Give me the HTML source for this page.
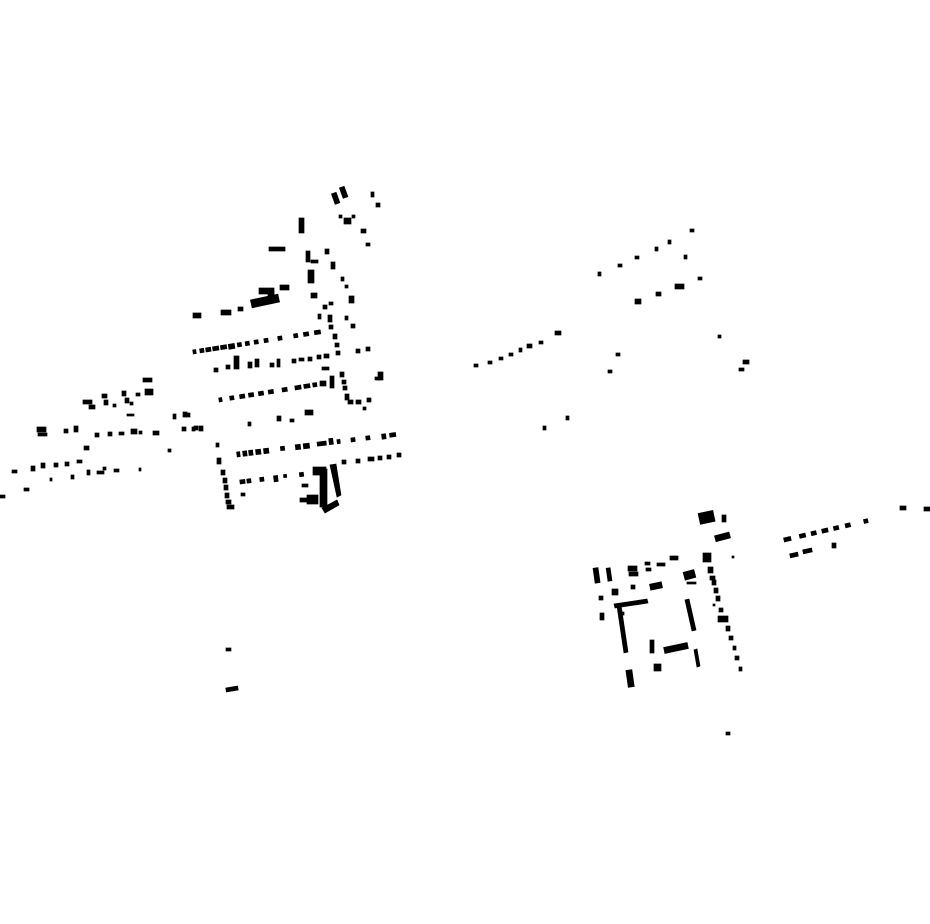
<!DOCTYPE html>
<html><head><meta charset="utf-8"><style>html,body{margin:0;padding:0;background:#fff}svg{display:block}</style></head>
<body>
<svg width="930" height="924" viewBox="0 0 930 924" xmlns="http://www.w3.org/2000/svg">
<g fill="#000" stroke="#000" stroke-width="0.7">
<rect x="333" y="193" width="5" height="11" transform="rotate(-20 335 198)"/>
<rect x="341" y="187" width="5" height="11" transform="rotate(-20 343 192)"/>
<rect x="371" y="192" width="3" height="5"/><rect x="376" y="203" width="4" height="4"/>
<rect x="339" y="215" width="3" height="3"/><rect x="344" y="218" width="7" height="6"/><rect x="352" y="215" width="3" height="3"/>
<rect x="361" y="229" width="5" height="4"/><rect x="366" y="243" width="4" height="3"/>
<rect x="299" y="218" width="5" height="15"/>
<rect x="269" y="247" width="16" height="4"/>
<rect x="306" y="251" width="4" height="11"/><rect x="311" y="260" width="7" height="3"/>
<rect x="308" y="270" width="6" height="13"/><rect x="311" y="293" width="6" height="5"/>
<rect x="325" y="249" width="4" height="5"/><rect x="331" y="262" width="4" height="7"/>
<rect x="341" y="277" width="3" height="4"/><rect x="345" y="285" width="3" height="3"/>
<rect x="349" y="296" width="5" height="7"/><rect x="345" y="316" width="3" height="4"/><rect x="351" y="324" width="4" height="4"/>
<rect x="193" y="313" width="8" height="5"/><rect x="221" y="310" width="10" height="5"/><rect x="238" y="307" width="5" height="4"/>
<rect x="251" y="297" width="28" height="8" transform="rotate(-12 265 301)"/>
<rect x="259" y="288" width="15" height="6"/><rect x="268" y="291" width="6" height="10"/><rect x="280" y="285" width="9" height="5"/>
<rect x="323" y="305" width="4" height="4"/><rect x="329" y="302" width="4" height="3"/>
<rect x="318" y="314" width="3" height="5"/><rect x="328" y="315" width="4" height="7"/><rect x="329" y="325" width="4" height="4"/>
<rect x="333" y="334" width="4" height="5"/><rect x="335" y="343" width="4" height="4"/><rect x="336" y="351" width="4" height="4"/>
<rect x="356" y="349" width="4" height="4"/><rect x="366" y="347" width="4" height="4"/>
<g transform="rotate(-9 193 352)">
<rect x="193" y="350" width="3" height="4"/><rect x="200" y="350" width="4" height="4"/><rect x="206" y="350" width="5" height="4"/><rect x="213" y="350" width="6" height="4"/><rect x="221" y="350" width="6" height="4"/><rect x="229" y="350" width="6" height="5"/><rect x="238" y="350" width="4" height="4"/><rect x="246" y="350" width="4" height="4"/><rect x="255" y="350" width="4" height="4"/><rect x="265" y="350" width="4" height="4"/><rect x="279" y="350" width="4" height="4"/><rect x="295" y="350" width="4" height="4"/><rect x="305" y="350" width="5" height="4"/><rect x="316" y="350" width="6" height="4"/>
</g>
<rect x="234" y="356" width="5" height="13"/><rect x="214" y="368" width="4" height="4"/><rect x="226" y="365" width="4" height="4"/>
<rect x="248" y="362" width="4" height="6"/><rect x="255" y="359" width="4" height="8"/><rect x="270" y="363" width="4" height="4"/><rect x="277" y="359" width="3" height="8"/>
<rect x="292" y="359" width="4" height="4"/><rect x="299" y="358" width="5" height="3"/><rect x="308" y="357" width="4" height="4"/><rect x="317" y="355" width="4" height="4"/><rect x="324" y="354" width="5" height="4"/>
<rect x="322" y="367" width="7" height="3"/>
<rect x="340" y="372" width="4" height="5"/><rect x="342" y="380" width="4" height="4"/><rect x="343" y="386" width="4" height="4"/><rect x="345" y="394" width="4" height="6"/><rect x="348" y="400" width="5" height="4"/><rect x="356" y="400" width="5" height="4"/><rect x="367" y="398" width="4" height="4"/><rect x="363" y="407" width="3" height="3"/>
<rect x="378" y="372" width="5" height="8"/><rect x="375" y="377" width="6" height="3"/>
<g transform="rotate(-9 219 400)">
<rect x="219" y="398" width="3" height="4"/><rect x="230" y="398" width="4" height="4"/><rect x="240" y="398" width="5" height="4"/><rect x="249" y="398" width="5" height="4"/><rect x="259" y="398" width="5" height="4"/><rect x="269" y="398" width="5" height="4"/><rect x="283" y="398" width="5" height="4"/><rect x="296" y="398" width="6" height="4"/><rect x="305" y="398" width="6" height="4"/><rect x="314" y="398" width="4" height="4"/>
</g>
<rect x="330" y="376" width="4" height="12"/><rect x="320" y="381" width="6" height="5"/>
<rect x="186" y="413" width="4" height="4"/><rect x="194" y="426" width="4" height="4"/><rect x="248" y="422" width="3" height="4"/>
<rect x="277" y="416" width="4" height="5"/><rect x="290" y="419" width="4" height="3"/><rect x="305" y="410" width="8" height="5"/>
<g transform="rotate(-7 237 455)">
<rect x="237" y="452" width="3" height="5"/><rect x="243" y="452" width="4" height="5"/><rect x="249" y="452" width="4" height="5"/><rect x="256" y="452" width="5" height="5"/><rect x="264" y="452" width="5" height="5"/><rect x="281" y="452" width="4" height="4"/><rect x="296" y="452" width="5" height="5"/><rect x="304" y="452" width="6" height="5"/><rect x="318" y="452" width="9" height="4"/><rect x="330" y="450" width="4" height="6"/><rect x="338" y="452" width="3" height="4"/><rect x="352" y="452" width="4" height="4"/><rect x="367" y="452" width="4" height="4"/><rect x="383" y="452" width="4" height="5"/><rect x="391" y="452" width="6" height="4"/>
</g>
<g transform="rotate(-7 240 482)">
<rect x="240" y="480" width="5" height="4"/><rect x="247" y="480" width="4" height="4"/><rect x="260" y="480" width="4" height="4"/><rect x="274" y="480" width="4" height="6"/><rect x="284" y="480" width="3" height="3"/><rect x="300" y="480" width="4" height="4"/>
</g>
<rect x="342" y="460" width="4" height="4"/><rect x="356" y="459" width="4" height="4"/><rect x="368" y="457" width="6" height="4"/><rect x="378" y="456" width="4" height="4"/><rect x="387" y="455" width="4" height="4"/><rect x="397" y="453" width="4" height="4"/>
<rect x="241" y="493" width="4" height="3"/>
<rect x="216" y="443" width="3" height="4"/><rect x="217" y="458" width="4" height="6"/><rect x="221" y="470" width="4" height="5"/><rect x="223" y="478" width="4" height="5"/><rect x="224" y="485" width="4" height="5"/><rect x="225" y="493" width="4" height="5"/><rect x="226" y="500" width="5" height="4"/><rect x="227" y="505" width="7" height="4"/>
<rect x="313" y="467" width="13" height="8"/><rect x="320" y="469" width="7" height="38"/>
<polygon points="330,465 336,464 341,495 337,497"/>
<polygon points="322,508 337,500 339,505 325,513"/>
<rect x="300" y="498" width="8" height="4"/><rect x="307" y="495" width="11" height="9"/><rect x="302" y="484" width="6" height="3"/>
<rect x="143" y="378" width="9" height="4"/><rect x="145" y="389" width="8" height="6"/><rect x="136" y="393" width="4" height="3"/>
<rect x="122" y="391" width="4" height="5"/><rect x="125" y="398" width="4" height="5"/><rect x="130" y="402" width="3" height="3"/>
<rect x="102" y="394" width="5" height="4"/><rect x="104" y="400" width="4" height="5"/><rect x="113" y="404" width="3" height="3"/>
<rect x="83" y="400" width="9" height="4"/><rect x="89" y="405" width="6" height="4"/>
<rect x="127" y="414" width="7" height="2"/>
<rect x="37" y="427" width="9" height="5"/><rect x="38" y="433" width="9" height="3"/><rect x="64" y="429" width="4" height="4"/><rect x="74" y="426" width="4" height="6"/>
<rect x="95" y="433" width="4" height="4"/><rect x="108" y="432" width="4" height="4"/><rect x="119" y="432" width="5" height="3"/><rect x="131" y="429" width="6" height="5"/><rect x="139" y="431" width="3" height="3"/><rect x="153" y="431" width="6" height="4"/>
<rect x="173" y="414" width="3" height="5"/><rect x="183" y="412" width="4" height="5"/><rect x="182" y="427" width="4" height="4"/><rect x="192" y="427" width="3" height="4"/><rect x="199" y="426" width="4" height="5"/>
<rect x="84" y="446" width="5" height="4"/><rect x="168" y="449" width="3" height="3"/>
<rect x="12" y="470" width="5" height="3"/><rect x="31" y="466" width="4" height="5"/><rect x="41" y="463" width="4" height="5"/><rect x="54" y="463" width="4" height="4"/><rect x="65" y="462" width="4" height="4"/><rect x="77" y="460" width="5" height="3"/>
<rect x="50" y="478" width="2" height="3"/><rect x="71" y="475" width="3" height="4"/><rect x="87" y="470" width="3" height="5"/><rect x="97" y="471" width="7" height="3"/><rect x="103" y="467" width="3" height="3"/><rect x="114" y="469" width="5" height="3"/><rect x="139" y="468" width="2" height="3"/>
<rect x="24" y="488" width="5" height="3"/><rect x="0" y="495" width="5" height="3"/>
<rect x="474" y="364" width="4" height="3"/><rect x="488" y="361" width="4" height="3"/><rect x="499" y="357" width="4" height="3"/><rect x="509" y="353" width="4" height="3"/><rect x="519" y="348" width="3" height="4"/><rect x="527" y="344" width="5" height="4"/><rect x="539" y="341" width="4" height="3"/><rect x="555" y="331" width="6" height="4"/>
<rect x="598" y="272" width="3" height="4"/><rect x="618" y="264" width="4" height="3"/><rect x="635" y="256" width="4" height="3"/><rect x="655" y="247" width="3" height="4"/><rect x="668" y="240" width="3" height="4"/><rect x="690" y="229" width="4" height="3"/><rect x="684" y="255" width="3" height="4"/><rect x="698" y="277" width="4" height="3"/>
<rect x="675" y="284" width="9" height="5"/><rect x="656" y="292" width="5" height="4"/><rect x="635" y="299" width="6" height="5"/>
<rect x="616" y="353" width="4" height="3"/><rect x="608" y="370" width="4" height="3"/><rect x="718" y="335" width="3" height="3"/>
<rect x="743" y="360" width="6" height="4"/><rect x="739" y="368" width="5" height="3"/>
<rect x="543" y="426" width="3" height="4"/><rect x="566" y="416" width="3" height="4"/>
<rect x="699" y="512" width="15" height="11" transform="rotate(-12 706 517)"/>
<rect x="722" y="515" width="4" height="7"/>
<rect x="715" y="534" width="15" height="6" transform="rotate(-15 722 537)"/>
<rect x="732" y="556" width="2" height="2"/>
<rect x="594" y="568" width="5" height="15" transform="rotate(-8 596 575)"/>
<rect x="607" y="568" width="4" height="13" transform="rotate(-8 609 574)"/>
<rect x="628" y="566" width="9" height="5"/><rect x="629" y="572" width="9" height="4"/>
<rect x="645" y="562" width="5" height="3"/><rect x="646" y="568" width="5" height="3"/><rect x="657" y="563" width="8" height="3"/><rect x="670" y="556" width="8" height="4"/>
<rect x="703" y="553" width="8" height="9"/>
<rect x="684" y="571" width="11" height="8" transform="rotate(-15 689 575)"/><rect x="687" y="582" width="9" height="2"/>
<rect x="650" y="583" width="12" height="6" transform="rotate(-12 656 586)"/>
<rect x="631" y="585" width="4" height="4"/><rect x="612" y="589" width="6" height="6"/><rect x="599" y="596" width="4" height="4"/><rect x="600" y="613" width="4" height="7"/>
<polygon points="614,604 647,599 648,603 615,608"/>
<polygon points="617,606 621,605 628,652 624,653"/>
<rect x="620" y="612" width="4" height="3"/>
<rect x="650" y="640" width="4" height="13"/>
<rect x="664" y="645" width="24" height="6" transform="rotate(-12 676 648)"/>
<polygon points="685,600 689,599 696,630 692,631"/>
<polygon points="694,650 697,649 700,666 697,667"/>
<rect x="654" y="664" width="7" height="7"/>
<rect x="627" y="670" width="6" height="17" transform="rotate(-8 630 678)"/>
<rect x="708" y="567" width="5" height="6"/><rect x="710" y="576" width="5" height="4"/><rect x="712" y="580" width="4" height="5"/><rect x="714" y="588" width="4" height="5"/><rect x="716" y="596" width="4" height="5"/><rect x="713" y="604" width="2" height="2"/><rect x="719" y="608" width="4" height="4"/><rect x="718" y="616" width="10" height="6"/><rect x="726" y="626" width="4" height="5"/><rect x="729" y="636" width="4" height="4"/><rect x="733" y="646" width="3" height="4"/><rect x="735" y="656" width="4" height="4"/><rect x="739" y="667" width="3" height="4"/>
<rect x="726" y="732" width="4" height="3"/>
<rect x="226" y="648" width="5" height="3"/><rect x="226" y="687" width="12" height="4" transform="rotate(-10 232 689)"/>
<g transform="rotate(-13 784 540)">
<rect x="784" y="538" width="7" height="4"/><rect x="800" y="538" width="6" height="4"/><rect x="812" y="538" width="5" height="4"/><rect x="823" y="538" width="6" height="4"/><rect x="835" y="538" width="5" height="4"/><rect x="847" y="538" width="5" height="4"/><rect x="866" y="538" width="4" height="4"/>
</g>
<rect x="900" y="506" width="6" height="4"/><rect x="924" y="507" width="6" height="4"/>
<rect x="790" y="553" width="8" height="4" transform="rotate(-12 794 555)"/><rect x="803" y="549" width="9" height="4" transform="rotate(-12 807 551)"/><rect x="832" y="543" width="4" height="5"/>
</g>
</svg>
</body></html>
